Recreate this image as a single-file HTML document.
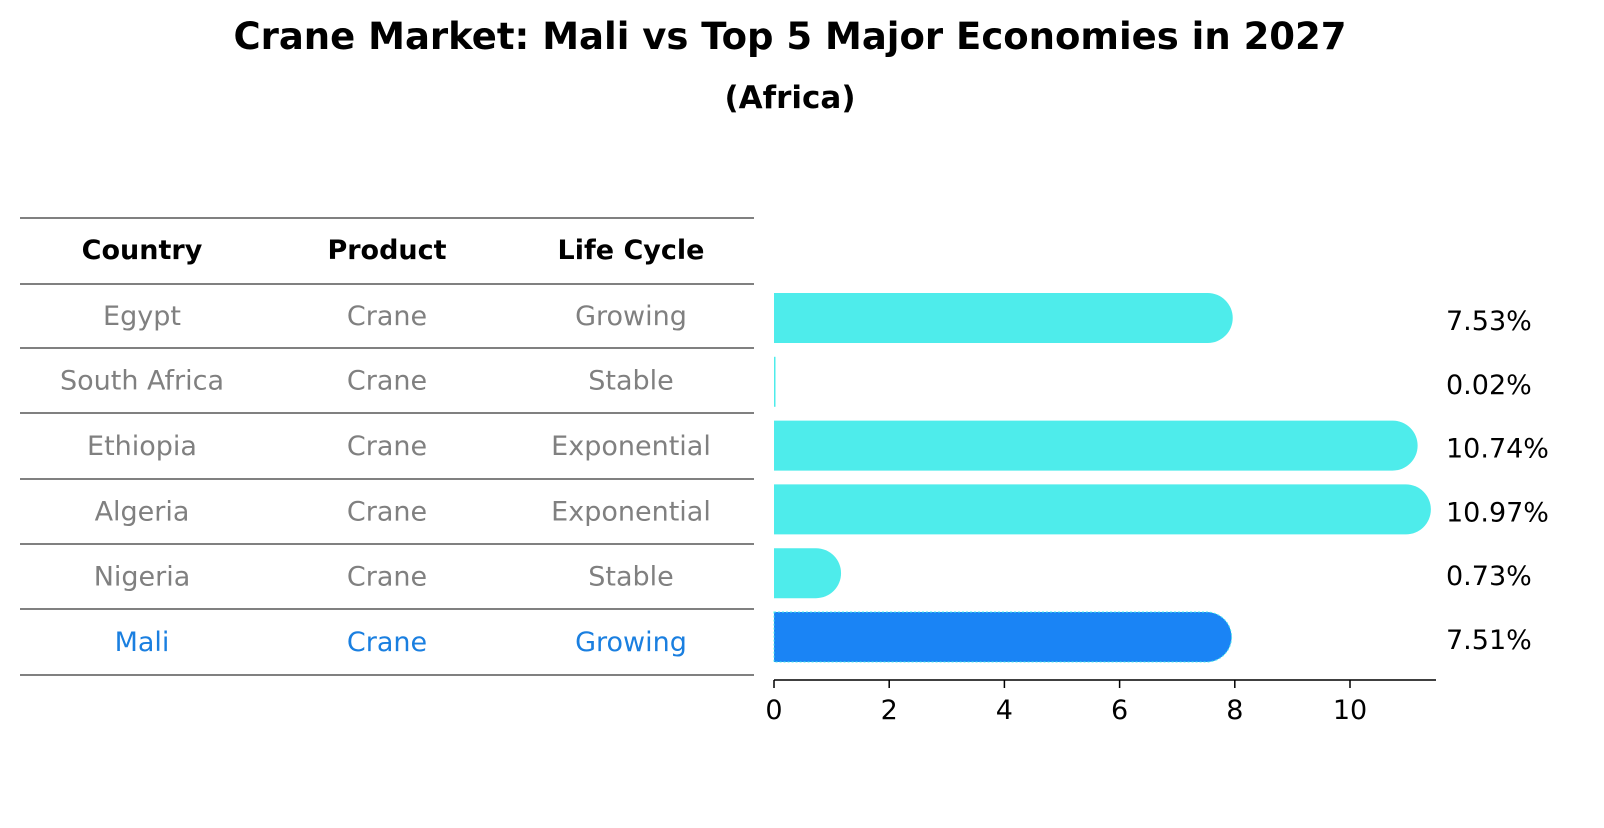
<!DOCTYPE html>
<html><head><meta charset="utf-8"><style>
body{margin:0;background:#fff;width:1604px;height:823px;overflow:hidden;font-family:"Liberation Sans","DejaVu Sans",sans-serif;}
svg text{font-family:"DejaVu Sans","Liberation Sans",sans-serif;}
</style></head><body>
<svg width="1604" height="823" xmlns="http://www.w3.org/2000/svg">
<text x="790" y="49" text-anchor="middle" font-size="37" font-weight="bold">Crane Market: Mali vs Top 5 Major Economies in 2027</text>
<text x="790" y="108" text-anchor="middle" font-size="31" font-weight="bold">(Africa)</text>
<g id="table"></g>
<g id="bars"></g>
</svg>
<script>
const countries=["Egypt","South Africa","Ethiopia","Algeria","Nigeria","Mali"];
const products=["Crane","Crane","Crane","Crane","Crane","Crane"];
const lifeCycles=["Growing","Stable","Exponential","Exponential","Stable","Growing"];
const values=[7.53,0.02,10.74,10.97,0.73,7.51];
const valueLabels=["7.53%","0.02%","10.74%","10.97%","0.73%","7.51%"];
const xTicks=[0,2,4,6,8,10];
const NS="http://www.w3.org/2000/svg";
function mk(t,a,p){const e=document.createElementNS(NS,t);for(const k in a)e.setAttribute(k,a[k]);p.appendChild(e);return e;}
const x=v=>774+v*57.6;
const rowY=i=>318+i*63.8;
const tbl=document.getElementById('table');
const lineYs=[218,284,348,413,479,544,609,675];
lineYs.forEach((y,i)=>{const l=mk('line',{x1:20,x2:754,y1:y,y2:y,stroke:'#000','stroke-width':1},tbl);

});
const cols=[142,387,631];
["Country","Product","Life Cycle"].forEach((h,j)=>{const t=mk('text',{x:cols[j],y:259,'text-anchor':'middle','font-size':27,'font-weight':'bold'},tbl);t.textContent=h;

});
countries.forEach((c,i)=>{const y=lineYs[i+1]+(lineYs[i+2]-lineYs[i+1])/2+9;
const col=c==="Mali"?"#1a7fe0":"#808080";
[c,products[i],lifeCycles[i]].forEach((s,j)=>{const t=mk('text',{x:cols[j],y:y,'text-anchor':'middle','font-size':27,fill:col},tbl);t.textContent=s;

});});
const bars=document.getElementById('bars');
values.forEach((v,i)=>{const cy=rowY(i),h=50,r=25,x0=x(0),x1=x(v);
const col=countries[i]==="Mali"?"#1a84f5":"#4eeceb";
let d;
if(v<0.1){d=`M${x0},${cy-h/2}h${Math.max(1.5,x1-x0)}v${h}h-${Math.max(1.5,x1-x0)}z`;}
else d=`M${x0},${cy-h/2}H${x1}A${r},${r} 0 0 1 ${x1},${cy+h/2}H${x0}Z`;
const p=mk('path',{d:d,fill:col},bars);
if(countries[i]==="Mali"){p.setAttribute('stroke','#4eeceb');p.setAttribute('stroke-width','1');p.setAttribute('stroke-dasharray','2,2');}


const t=mk('text',{x:1446,y:cy+12,'font-size':27},bars);t.textContent=valueLabels[i];

});
const ax=mk('line',{x1:774,x2:1436,y1:680,y2:680,stroke:'#000','stroke-width':1.5},bars);


xTicks.forEach(v=>{const l=mk('line',{x1:x(v),x2:x(v),y1:680,y2:688,stroke:'#000','stroke-width':1.5},bars);


const t=mk('text',{x:x(v),y:719,'text-anchor':'middle','font-size':27},bars);t.textContent=v;

});
</script>
</body></html>
